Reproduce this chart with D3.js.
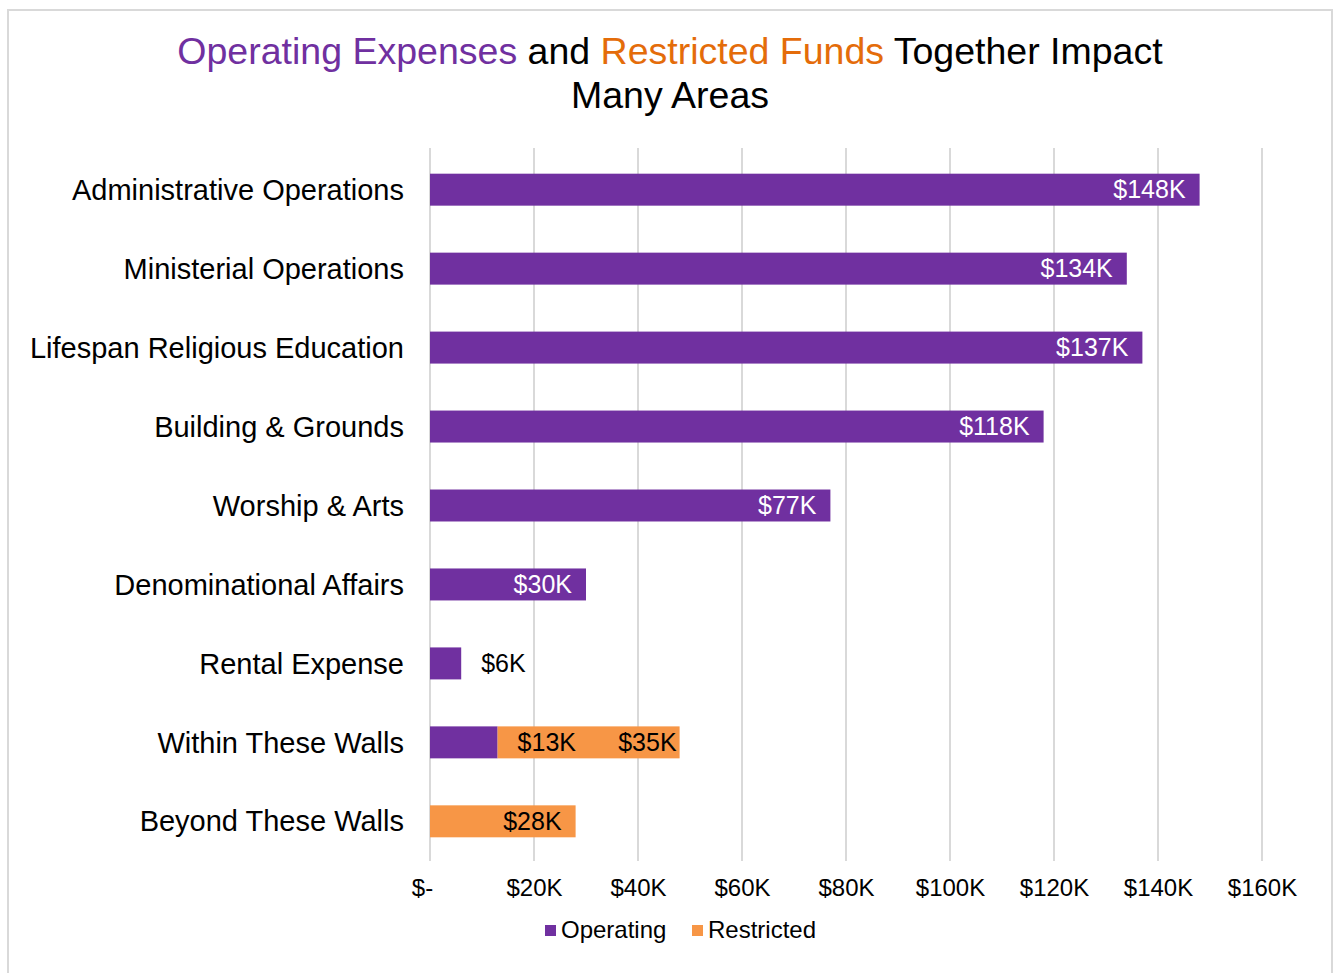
<!DOCTYPE html>
<html>
<head>
<meta charset="utf-8">
<script src="https://cdn.jsdelivr.net/npm/d3@7"></script>
<style>
  body { margin: 0; background: #fff; }
  text { font-family: "Liberation Sans", Arial, sans-serif; }
</style>
</head>
<body>
<svg width="1338" height="973"></svg>
<script>
// chart data
var categories = ["Administrative Operations", "Ministerial Operations", "Lifespan Religious Education",
    "Building & Grounds", "Worship & Arts", "Denominational Affairs", "Rental Expense",
    "Within These Walls", "Beyond These Walls"];
var operating = [148, 134, 137, 118, 77, 30, 6, 13, 0];
var restricted = [0, 0, 0, 0, 0, 0, 0, 35, 28];
var tickValues = [0, 20, 40, 60, 80, 100, 120, 140, 160];
var seriesNames = ["Operating", "Restricted"];

var purple = "#7030a0",
    orange = "#f79646",
    titleOrange = "#e46c0a",
    grid = "#d9d9d9";

var svg = d3.select("svg"),
    margin = {top: 150, right: 76, bottom: 112, left: 430},
    width = +svg.attr("width") - margin.left - margin.right,
    height = +svg.attr("height") - margin.top - margin.bottom;

// outer frame
svg.append("rect")
    .attr("x", 8).attr("y", 10)
    .attr("width", 1324).attr("height", 990)
    .attr("fill", "none")
    .attr("stroke", grid)
    .attr("stroke-width", 2);

// title
var title = svg.append("text")
    .attr("x", 670).attr("y", 64)
    .attr("text-anchor", "middle")
    .style("font-size", "37.5px");
title.append("tspan").attr("fill", purple).text("Operating Expenses");
title.append("tspan").attr("fill", "#000").text(" and ");
title.append("tspan").attr("fill", titleOrange).text("Restricted Funds");
title.append("tspan").attr("fill", "#000").text(" Together Impact");
svg.append("text")
    .attr("x", 670).attr("y", 108)
    .attr("text-anchor", "middle")
    .style("font-size", "37.5px")
    .text("Many Areas");

var x = d3.scaleLinear().domain([0, 160]).range([0, width]);
var y = d3.scaleBand().domain(categories).range([0, height]).paddingInner(0.595).paddingOuter(0.3);

var g = svg.append("g")
    .attr("transform", "translate(" + margin.left + "," + margin.top + ")");

// gridlines
g.append("g")
    .selectAll("line")
    .data(tickValues)
    .enter().append("line")
    .attr("x1", function (d) { return x(d); })
    .attr("x2", function (d) { return x(d); })
    .attr("y1", -2)
    .attr("y2", height)
    .attr("stroke", grid)
    .attr("stroke-width", 2);

// x axis tick labels
var xAxis = d3.axisBottom(x)
    .tickValues(tickValues)
    .tickSize(0)
    .tickPadding(0)
    .tickFormat(function (d) { return d === 0 ? "$-" : "$" + d + "K"; });

var ax = g.append("g")
    .attr("transform", "translate(0," + (height + 27) + ")")
    .call(xAxis);
ax.select(".domain").remove();
ax.selectAll("text")
    .attr("dy", "0.35em")
    .attr("fill", "#000")
    .style("font-size", "24px")
    .style("font-family", "'Liberation Sans', Arial, sans-serif")
    .attr("dx", function (d) { return d === 0 ? -8 : 0; });

// category labels
g.append("g")
    .selectAll("text")
    .data(categories)
    .enter().append("text")
    .attr("x", -26)
    .attr("y", function (d) { return y(d) + y.bandwidth() / 2; })
    .attr("dy", "0.35em")
    .attr("text-anchor", "end")
    .style("font-size", "29px")
    .text(function (d) { return d; });

var rows = categories.map(function (c, i) {
    return {cat: c, op: operating[i], re: restricted[i]};
});

// operating bars
g.append("g")
    .selectAll("rect")
    .data(rows.filter(function (d) { return d.op > 0; }))
    .enter().append("rect")
    .attr("x", x(0))
    .attr("y", function (d) { return y(d.cat); })
    .attr("width", function (d) { return x(d.op) - x(0); })
    .attr("height", y.bandwidth())
    .attr("fill", purple);

// restricted bars, stacked after operating
g.append("g")
    .selectAll("rect")
    .data(rows.filter(function (d) { return d.re > 0; }))
    .enter().append("rect")
    .attr("x", function (d) { return x(d.op); })
    .attr("y", function (d) { return y(d.cat); })
    .attr("width", function (d) { return x(d.op + d.re) - x(d.op); })
    .attr("height", y.bandwidth())
    .attr("fill", orange);

// data labels
function fmt(v) { return "$" + v + "K"; }

var opLabels = g.append("g")
    .selectAll("text")
    .data(rows.filter(function (d) { return d.op > 0; }))
    .enter().append("text")
    .attr("y", function (d) { return y(d.cat) + y.bandwidth() / 2; })
    .attr("dy", "0.35em")
    .style("font-size", "25px")
    .text(function (d) { return fmt(d.op); });

opLabels.each(function (d) {
    var t = d3.select(this),
        w = this.getComputedTextLength(),
        barW = x(d.op) - x(0);
    if (barW > w + 28) {
        t.attr("x", x(d.op) - 14).attr("text-anchor", "end").attr("fill", "#fff");
    } else {
        t.attr("x", x(d.op) + 20).attr("text-anchor", "start").attr("fill", "#000");
    }
});

g.append("g")
    .selectAll("text")
    .data(rows.filter(function (d) { return d.re > 0; }))
    .enter().append("text")
    .attr("x", function (d) { return x(d.op + d.re) - (d.op > 0 ? 3 : 14); })
    .attr("y", function (d) { return y(d.cat) + y.bandwidth() / 2; })
    .attr("dy", "0.35em")
    .attr("text-anchor", "end")
    .attr("fill", "#000")
    .style("font-size", "25px")
    .text(function (d) { return fmt(d.re); });

// legend
var legend = svg.append("g").attr("transform", "translate(545,930)");
var items = legend.selectAll("g")
    .data(seriesNames)
    .enter().append("g")
    .attr("transform", function (d, i) { return "translate(" + (i * 147) + ",0)"; });
items.append("rect")
    .attr("x", 0).attr("y", -5)
    .attr("width", 11).attr("height", 11)
    .attr("fill", function (d, i) { return i === 0 ? purple : orange; });
items.append("text")
    .attr("x", 16)
    .attr("dy", "0.35em")
    .style("font-size", "24px")
    .text(function (d) { return d; });
</script>
</body>
</html>
